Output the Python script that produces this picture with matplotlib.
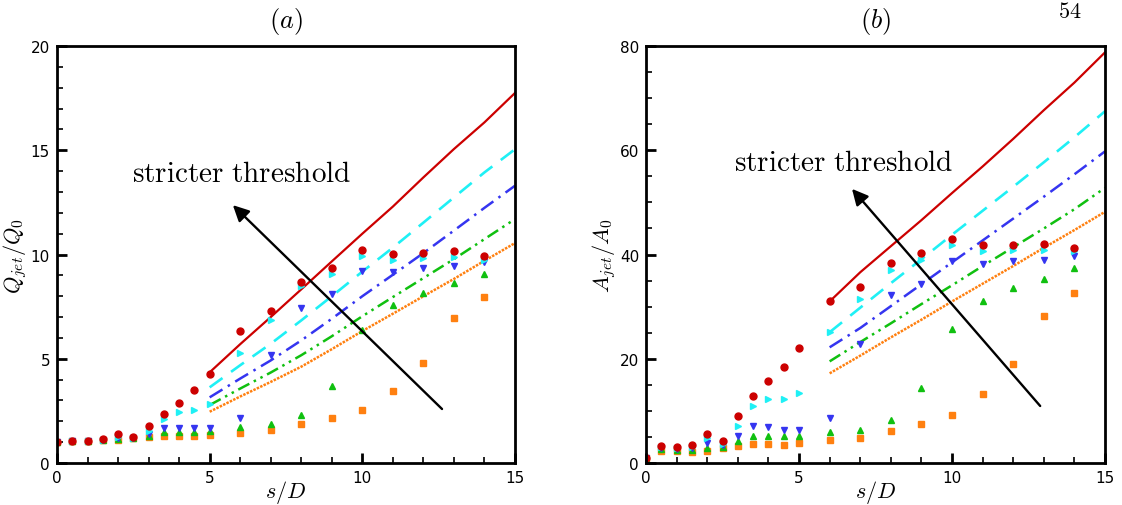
import matplotlib
matplotlib.use("Agg")
import matplotlib.pyplot as plt
from matplotlib.ticker import MultipleLocator

plt.rcParams['mathtext.fontset'] = 'cm'
plt.rcParams['font.family'] = 'DejaVu Sans'

# sample positions (markers)
xs = [0, 0.5, 1, 1.5, 2, 2.5, 3, 3.5, 4, 4.5, 5, 6, 7, 8, 9, 10, 11, 12, 13, 14]

# panel (a): Q_jet / Q_0
a_red = [1.0, 1.05, 1.05, 1.13, 1.39, 1.26, 1.77, 2.37, 2.88, 3.49, 4.25, 6.35, 7.29, 8.68, 9.37, 10.2, 10.03, 10.09, 10.16, 9.95]
a_cyan = [1.0, 1.05, 1.05, 1.1, 1.25, 1.22, 1.55, 2.12, 2.43, 2.54, 2.83, 5.28, 6.87, 8.47, 9.08, 9.94, 9.75, 9.83, 9.88, 9.75]
a_blue = [1.0, 1.05, 1.05, 1.1, 1.21, 1.2, 1.41, 1.68, 1.68, 1.68, 1.69, 2.17, 5.16, 7.43, 8.1, 9.2, 9.16, 9.35, 9.43, 9.62]
a_green = [1.0, 1.05, 1.05, 1.1, 1.16, 1.2, 1.31, 1.47, 1.47, 1.5, 1.55, 1.74, 1.85, 2.32, 3.69, 6.4, 7.56, 8.15, 8.62, 9.06]
a_orange = [1.0, 1.05, 1.05, 1.1, 1.12, 1.18, 1.23, 1.28, 1.28, 1.28, 1.33, 1.42, 1.57, 1.85, 2.14, 2.53, 3.44, 4.78, 6.94, 7.95]

line_xa = [5, 6, 7, 8, 9, 10, 11, 12, 13, 14, 15]
a_red_line = [4.35, 5.7, 7.0, 8.33, 9.67, 11.0, 12.3, 13.7, 15.06, 16.34, 17.75]
a_cyan_line = [3.63, 4.69, 5.72, 6.84, 8.0, 9.18, 10.33, 11.53, 12.74, 13.94, 15.05]
a_blue_line = [3.15, 4.05, 4.92, 5.88, 6.92, 8.0, 9.03, 10.07, 11.15, 12.24, 13.3]
a_green_line = [2.78, 3.57, 4.34, 5.17, 6.08, 7.04, 7.96, 8.87, 9.78, 10.74, 11.7]
a_orange_line = [2.46, 3.19, 3.89, 4.62, 5.46, 6.33, 7.16, 8.0, 8.83, 9.7, 10.55]

# panel (b): A_jet / A_0
b_red = [1.0, 3.26, 3.13, 3.39, 5.5, 4.29, 9.02, 12.79, 15.67, 18.48, 22.06, 31.0, 33.76, 38.37, 40.29, 42.97, 41.9, 41.82, 42.08, 41.18]
b_cyan = [1.0, 3.0, 2.9, 3.0, 4.86, 3.58, 7.1, 10.87, 12.28, 12.28, 13.43, 25.2, 31.46, 37.03, 38.95, 41.9, 40.74, 40.93, 40.93, 40.6]
b_blue = [1.0, 2.8, 2.7, 2.8, 3.84, 3.45, 5.24, 7.16, 6.97, 6.4, 6.4, 8.57, 22.77, 32.3, 34.34, 38.75, 38.11, 38.75, 39.0, 39.78]
b_green = [1.0, 2.6, 2.5, 2.5, 2.8, 3.13, 4.29, 5.11, 5.11, 5.11, 5.11, 6.0, 6.27, 8.32, 14.32, 25.77, 31.0, 33.5, 35.3, 37.4]
b_orange = [1.0, 2.37, 2.37, 2.17, 2.24, 2.81, 3.26, 3.58, 3.58, 3.45, 3.77, 4.35, 4.73, 6.07, 7.42, 9.14, 13.17, 18.93, 28.14, 32.55]

line_xb = [6, 7, 8, 9, 10, 11, 12, 13, 14, 15]
b_red_line = [31.0, 36.6, 41.6, 46.6, 51.8, 56.9, 62.2, 67.7, 73.0, 78.8]
b_cyan_line = [25.1, 29.8, 34.5, 39.1, 43.8, 48.4, 53.0, 57.7, 62.5, 67.5]
b_blue_line = [22.2, 25.9, 30.1, 34.3, 38.5, 42.7, 46.9, 51.1, 55.4, 59.8]
b_green_line = [19.5, 23.2, 26.8, 30.5, 34.1, 37.8, 41.4, 45.0, 48.7, 52.8]
b_orange_line = [17.2, 20.6, 24.1, 27.5, 31.0, 34.4, 37.8, 41.3, 44.7, 48.2]

RED = '#cc0000'
CYAN = '#1ff0f5'
BLUE = '#3535f0'
GREEN = '#10c010'
ORANGE = '#ff8010'


def draw_panel(ax, lx, lines, pts, ylim, ymajor, yminor, ylabel, title, arrow, text_xy):
    red_l, cyan_l, blue_l, green_l, orange_l = lines
    red_p, cyan_p, blue_p, green_p, orange_p = pts

    # model curves
    ax.plot(lx, orange_l, color=ORANGE, lw=1.8, dashes=(1, 0.5))
    ax.plot(lx, green_l, color=GREEN, lw=1.8, dashes=(5, 2, 1, 2, 1, 2))
    ax.plot(lx, blue_l, color=BLUE, lw=1.8, dashes=(6, 2.5, 1, 2.5))
    ax.plot(lx, cyan_l, color=CYAN, lw=1.9, dashes=(6, 4))
    ax.plot(lx, red_l, color=RED, lw=1.6)

    # measured points
    ax.plot(xs, orange_p, 's', color=ORANGE, ms=4, ls='none')
    ax.plot(xs, green_p, '^', color=GREEN, ms=4.5, ls='none')
    ax.plot(xs, blue_p, 'v', color=BLUE, ms=4.5, ls='none')
    ax.plot(xs, cyan_p, '>', color=CYAN, ms=4.5, ls='none')
    ax.plot(xs, red_p, 'o', color=RED, ms=5, ls='none')

    ax.annotate('', xy=arrow[1], xytext=arrow[0],
                arrowprops=dict(arrowstyle='-|>', color='black', lw=1.7,
                                mutation_scale=24, shrinkA=0, shrinkB=0))
    ax.text(text_xy[0], text_xy[1], r'$\mathrm{stricter\ threshold}$',
            fontsize=21, ha='center', va='center')

    ax.set_xlim(0, 15)
    ax.set_ylim(*ylim)
    ax.xaxis.set_major_locator(MultipleLocator(5))
    ax.xaxis.set_minor_locator(MultipleLocator(1))
    ax.yaxis.set_major_locator(MultipleLocator(ymajor))
    ax.yaxis.set_minor_locator(MultipleLocator(yminor))
    ax.tick_params(which='both', direction='in', top=False, right=False,
                   labelsize=11, width=1.2, pad=5)
    ax.tick_params(which='major', length=7, width=2)
    ax.tick_params(which='minor', length=4)
    for s in ax.spines.values():
        s.set_linewidth(2)
    ax.set_xlabel(r'$s/D$', fontsize=16)
    ax.xaxis.set_label_coords(0.5, -0.036)
    ax.set_ylabel(ylabel, fontsize=16)
    ax.yaxis.set_label_coords(-0.062, 0.5)
    ax.set_title(title, fontsize=19, pad=14)


fig = plt.figure(figsize=(11.22, 5.06), dpi=100)
ax1 = fig.add_axes([0.0508, 0.083, 0.4082, 0.824])
ax2 = fig.add_axes([0.5758, 0.083, 0.4091, 0.824])

draw_panel(ax1, line_xa,
           (a_red_line, a_cyan_line, a_blue_line, a_green_line, a_orange_line),
           (a_red, a_cyan, a_blue, a_green, a_orange),
           (0, 20), 5, 1, r'$Q_{jet}/Q_0$', r'$(a)$',
           ((12.61, 2.59), (5.76, 12.37)), (6.06, 13.9))

draw_panel(ax2, line_xb,
           (b_red_line, b_cyan_line, b_blue_line, b_green_line, b_orange_line),
           (b_red, b_cyan, b_blue, b_green, b_orange),
           (0, 80), 20, 5, r'$A_{jet}/A_0$', r'$(b)$',
           ((12.88, 10.94), (6.73, 52.6)), (6.44, 57.7))

fig.text(1070 / 1122, 1 - 18 / 506, r'$54$', fontsize=16, ha='center', va='baseline')

fig.savefig('out.png', dpi=100)
